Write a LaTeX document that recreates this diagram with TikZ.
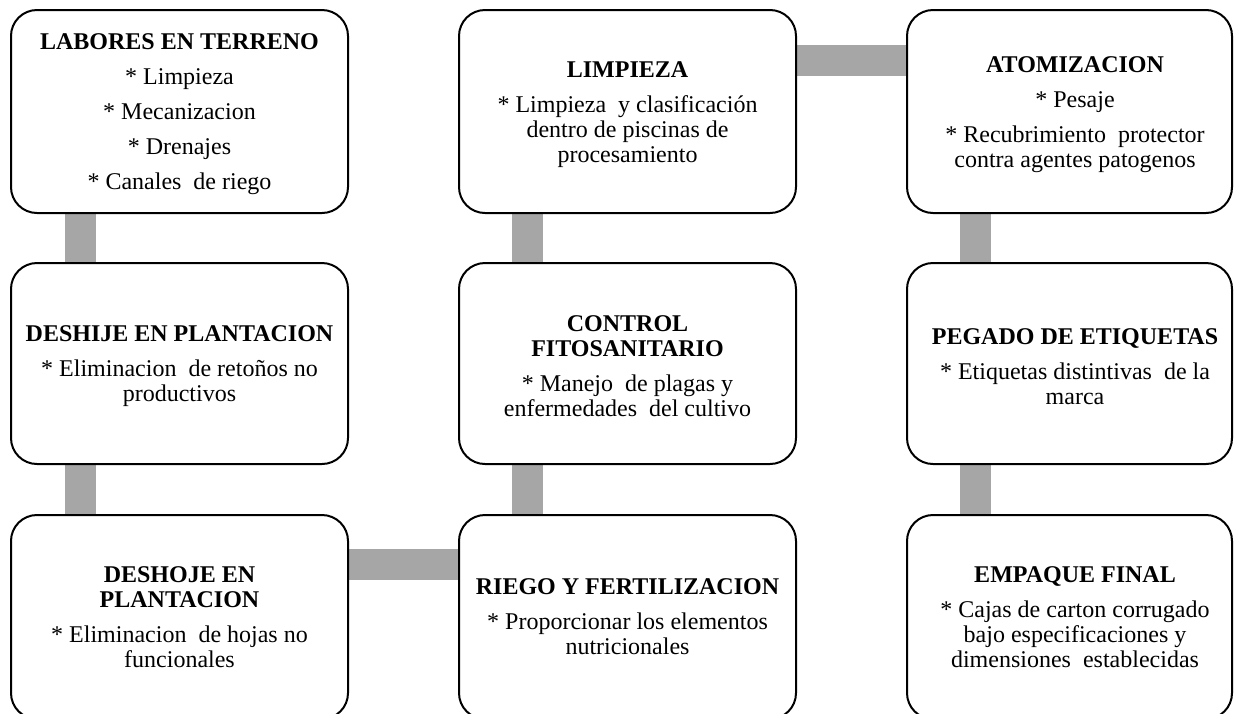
\documentclass[tikz,border=0pt]{standalone}
\usepackage{fontspec}
\setmainfont{Liberation Serif}
\usetikzlibrary{backgrounds}
\definecolor{conngray}{RGB}{166,166,166}
\tikzset{
  stagebox/.style={draw=black, line width=1pt, rounded corners=13pt, fill=white,
    inner sep=0pt, minimum width=#1},
  stagebox/.default=168.5pt,
  stagetext/.style={align=center, inner sep=0pt, font=\fontsize{12}{12.5}\selectfont},
  conn/.style={draw=conngray, line width=15.5pt}
}
\begin{document}
\begin{tikzpicture}[x=0.5pt, y=-0.5pt]
\useasboundingbox (0,0) rectangle (1234,713);
\clip (0,0) rectangle (1234,713);
% boxes
\node[stagebox, minimum height=101.5pt] (A) at (179.5,111.5) {};
\node[stagebox, minimum height=100.5pt] (B) at (179.5,363.5) {};
\node[stagebox, minimum height=102pt]   (C) at (179.5,617) {};
\node[stagebox, minimum height=102pt]   (D) at (627.5,617) {};
\node[stagebox, minimum height=100.5pt] (E) at (627.5,363.5) {};
\node[stagebox, minimum height=101.5pt] (F) at (627.5,111.5) {};
\node[stagebox=162.5pt, minimum height=101.5pt] (G) at (1069.5,111.5) {};
\node[stagebox=162.5pt, minimum height=100.5pt] (H) at (1069.5,363.5) {};
\node[stagebox=162.5pt, minimum height=102pt]   (I) at (1069.5,617) {};
% texts
\node[stagetext] (tA) at ([yshift=-1.5pt]A.center) {\textbf{LABORES EN TERRENO}\\[5pt]
  * Limpieza\\[5pt] * Mecanizacion\\[5pt] * Drenajes\\[5pt] * Canales\ \ de riego};
\node[stagetext] (tB) at ([yshift=-1.5pt]B.center) {\textbf{DESHIJE EN PLANTACION}\\[5pt]
  * Eliminacion\ \ de retoños no\\ productivos};
\node[stagetext] (tC) at (C.center) {\textbf{DESHOJE EN}\\\textbf{PLANTACION}\\[5pt]
  * Eliminacion\ \ de hojas no\\ funcionales};
\node[stagetext] (tD) at (D.center) {\textbf{RIEGO Y FERTILIZACION}\\[5pt]
  * Proporcionar los elementos\\ nutricionales};
\node[stagetext] (tE) at ([yshift=-1.5pt]E.center) {\textbf{CONTROL}\\\textbf{FITOSANITARIO}\\[5pt]
  * Manejo\ \ de plagas y\\ enfermedades\ \ del cultivo};
\node[stagetext] (tF) at ([yshift=-1.5pt]F.center) {\textbf{LIMPIEZA}\\[5pt]
  * Limpieza\ \ y clasificación\\ dentro de piscinas de\\ procesamiento};
\node[stagetext] (tG) at ([xshift=2.75pt,yshift=-1.5pt]G.center) {\textbf{ATOMIZACION}\\[5pt]
  * Pesaje\\[5pt] * Recubrimiento\ \ protector\\ contra agentes patogenos};
\node[stagetext] (tH) at ([xshift=2.75pt,yshift=-1.5pt]H.center) {\textbf{PEGADO DE ETIQUETAS}\\[5pt]
  * Etiquetas distintivas\ \ de la\\ marca};
\node[stagetext] (tI) at ([xshift=2.75pt]I.center) {\textbf{EMPAQUE FINAL}\\[5pt]
  * Cajas de carton corrugado\\ bajo especificaciones y\\ dimensiones\ \ establecidas};
% connectors
\begin{scope}[on background layer]
\draw[conn] ([xshift=-49.5pt]A.south) -- ([xshift=-49.5pt]B.north);
\draw[conn] ([xshift=-49.5pt]B.south) -- ([xshift=-49.5pt]C.north);
\draw[conn] ([yshift=26.25pt]C.east) -- ([yshift=26.25pt]D.west);
\draw[conn] ([xshift=-50pt]D.north) -- ([xshift=-50pt]E.south);
\draw[conn] ([xshift=-50pt]E.north) -- ([xshift=-50pt]F.south);
\draw[conn] ([yshift=25.75pt]F.east) -- ([yshift=25.75pt]G.west);
\draw[conn] ([xshift=-47pt]G.south) -- ([xshift=-47pt]H.north);
\draw[conn] ([xshift=-47pt]H.south) -- ([xshift=-47pt]I.north);
\end{scope}
\end{tikzpicture}
\end{document}
